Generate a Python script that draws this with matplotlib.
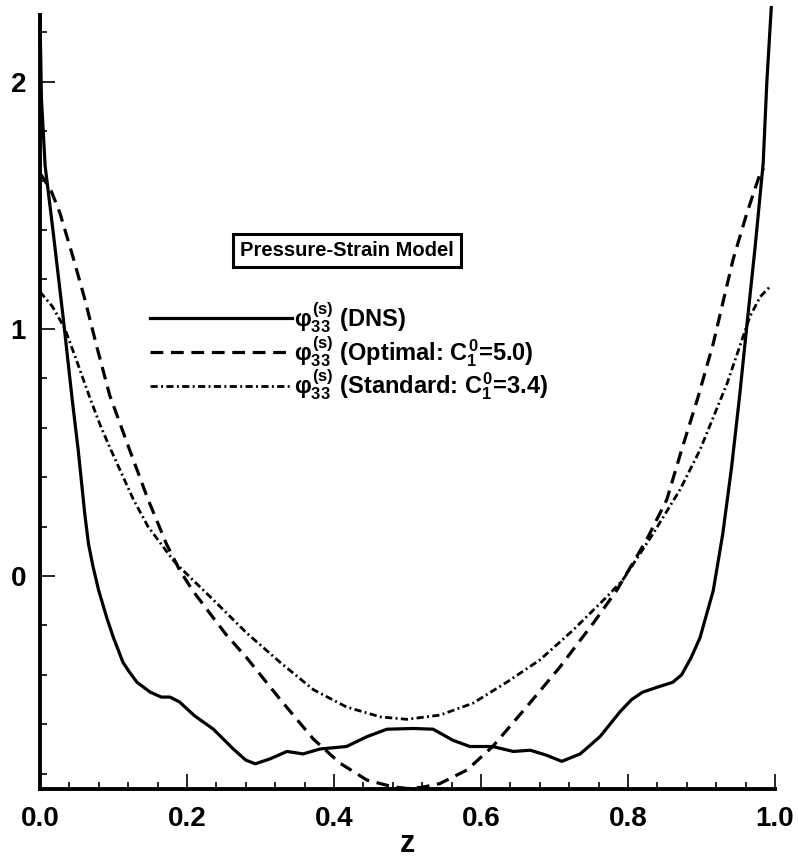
"""Pressure-strain model comparison: DNS vs optimal / standard C1^0."""
import matplotlib

matplotlib.use("Agg")
import matplotlib.pyplot as plt
from matplotlib.ticker import FormatStrFormatter, MultipleLocator

plt.rcParams["font.family"] = ["Liberation Sans", "DejaVu Sans"]
plt.rcParams["font.weight"] = "bold"
plt.rcParams["mathtext.fontset"] = "custom"
plt.rcParams["mathtext.rm"] = "Liberation Sans:bold"
plt.rcParams["mathtext.it"] = "Liberation Sans:bold"
plt.rcParams["mathtext.bf"] = "Liberation Sans:bold"

# --------------------------------------------------------------------------- #
# data
# --------------------------------------------------------------------------- #
dns_z = [0.000, 0.002, 0.007, 0.018, 0.031, 0.044, 0.052, 0.061, 0.066, 0.072,
         0.080, 0.091, 0.100, 0.113, 0.122, 0.132, 0.150, 0.165, 0.177, 0.190,
         0.210, 0.236, 0.263, 0.280, 0.293, 0.313, 0.336, 0.358, 0.381, 0.417,
         0.445, 0.472, 0.508, 0.535, 0.562, 0.585, 0.616, 0.644, 0.667, 0.689,
         0.710, 0.735, 0.762, 0.789, 0.805, 0.820, 0.840, 0.861, 0.873, 0.886,
         0.898, 0.916, 0.929, 0.941, 0.952, 0.962, 0.973, 0.984, 0.989, 0.995]
dns_phi = [2.27, 1.93, 1.66, 1.39, 1.06, 0.71, 0.51, 0.25, 0.13, 0.04,
           -0.06, -0.17, -0.25, -0.35, -0.39, -0.43, -0.47, -0.49, -0.49, -0.51,
           -0.565, -0.62, -0.70, -0.745, -0.76, -0.74, -0.71, -0.72, -0.70, -0.69,
           -0.65, -0.62, -0.617, -0.62, -0.665, -0.69, -0.69, -0.71, -0.705, -0.725,
           -0.75, -0.72, -0.65, -0.55, -0.50, -0.47, -0.45, -0.43, -0.40, -0.33,
           -0.25, -0.06, 0.17, 0.44, 0.73, 1.02, 1.33, 1.67, 2.00, 2.30]

opt_z = [0.000, 0.015, 0.027, 0.045, 0.061, 0.078, 0.095, 0.122, 0.147, 0.172,
         0.190, 0.208, 0.236, 0.254, 0.281, 0.327, 0.372, 0.408, 0.445, 0.480,
         0.500, 0.520, 0.544, 0.581, 0.616, 0.662, 0.707, 0.753, 0.785, 0.826,
         0.853, 0.873, 0.895, 0.916, 0.943, 0.962, 0.980, 0.985]
opt_phi = [1.63, 1.56, 1.47, 1.29, 1.12, 0.92, 0.73, 0.51, 0.31, 0.13,
           0.024, -0.06, -0.17, -0.24, -0.33, -0.50, -0.66, -0.757, -0.826, -0.853,
           -0.86, -0.855, -0.84, -0.785, -0.69, -0.53, -0.37, -0.19, -0.057, 0.15,
           0.31, 0.51, 0.72, 0.94, 1.28, 1.47, 1.63, 1.65]

std_z = [0.000, 0.017, 0.034, 0.050, 0.068, 0.082, 0.095, 0.127, 0.147, 0.181,
         0.190, 0.236, 0.281, 0.327, 0.372, 0.417, 0.463, 0.499, 0.544, 0.589,
         0.635, 0.680, 0.725, 0.771, 0.793, 0.834, 0.871, 0.898, 0.935, 0.966,
         0.980, 0.993]
std_phi = [1.15, 1.09, 1.00, 0.87, 0.72, 0.61, 0.52, 0.31, 0.20, 0.065,
           0.036, -0.097, -0.23, -0.35, -0.46, -0.53, -0.57, -0.58, -0.563, -0.515,
           -0.43, -0.34, -0.22, -0.085, -0.016, 0.17, 0.35, 0.51, 0.78, 1.05,
           1.13, 1.17]

labels = [r"$φ_{33}^{(s)}$ (DNS)",
          r"$φ_{33}^{(s)}$ (Optimal: $C_1^0$=5.0)",
          r"$φ_{33}^{(s)}$ (Standard: $C_1^0$=3.4)"]

# --------------------------------------------------------------------------- #
fig = plt.figure(figsize=(7.98, 8.61), dpi=100)
ax = fig.add_axes([0.0501, 0.0836, 0.921, 0.899])

ax.plot(dns_z, dns_phi, color="black", lw=2.3, ls="-", label=labels[0], clip_on=False)
ax.plot(opt_z, opt_phi, color="black", lw=2.3, ls=(0, (4, 2.4)), label=labels[1])
ax.plot(std_z, std_phi, color="black", lw=2.0, ls=(0, (2.6, 1.2, 0.7, 1.2)), label=labels[2])

ax.set_xlim(0, 1)
ax.set_ylim(-0.862, 2.27)

for side in ("top", "right"):
    ax.spines[side].set_visible(False)
for side in ("left", "bottom"):
    ax.spines[side].set_linewidth(2.8)

ax.xaxis.set_major_locator(MultipleLocator(0.2))
ax.xaxis.set_minor_locator(MultipleLocator(0.04))
ax.yaxis.set_major_locator(MultipleLocator(1))
ax.yaxis.set_minor_locator(MultipleLocator(0.2))
ax.tick_params(which="both", direction="in", top=False, right=False, width=1.2)
ax.tick_params(which="major", length=11, labelsize=20)
ax.tick_params(which="minor", length=5)
ax.tick_params(axis="x", which="major", pad=12)
ax.tick_params(axis="y", which="major", pad=10)
ax.xaxis.set_major_formatter(FormatStrFormatter("%.1f"))

ax.set_xlabel("z", fontsize=22, fontweight="bold", labelpad=-2)

ax.text(0.418, 1.316, "Pressure-Strain Model", fontsize=14.5, fontweight="bold",
        ha="center", va="center",
        bbox=dict(boxstyle="square,pad=0.35", fc="white", ec="black", lw=2.2))

ax.legend(loc="upper left", bbox_to_anchor=(0.15, 0.632), frameon=False,
          fontsize=17, handlelength=6.0, handletextpad=0.1, labelspacing=-0.05,
          borderpad=0, borderaxespad=0)

fig.savefig("out.png", dpi=100)
plt.close(fig)
